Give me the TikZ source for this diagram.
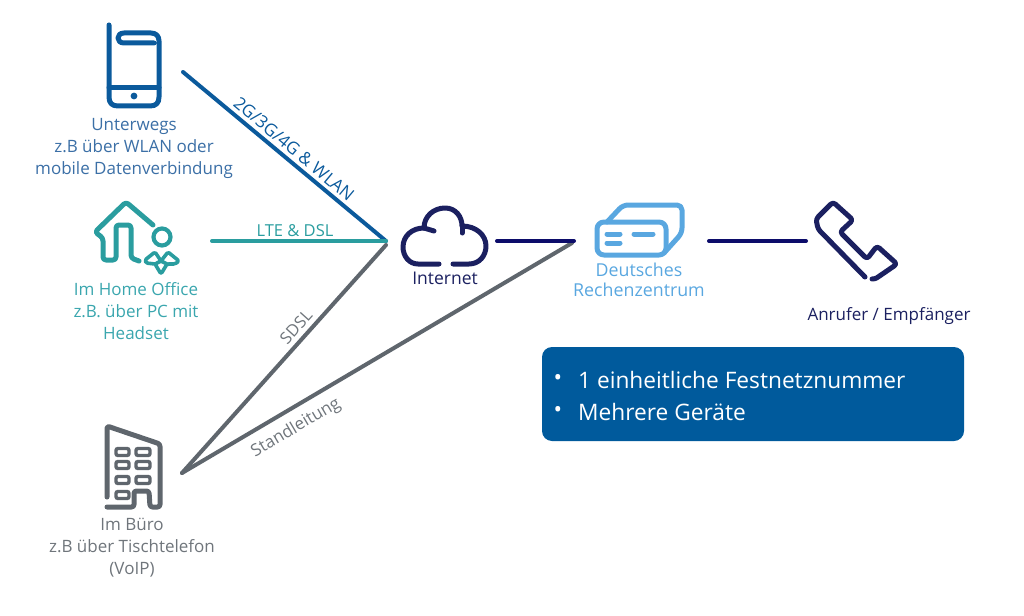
\documentclass[tikz,border=0pt]{standalone}
\usepackage{fontspec}
\setmainfont{Open Sans}
\usetikzlibrary{positioning}
\definecolor{mobblue}{HTML}{0B5A9C}
\definecolor{mobtext}{HTML}{3B6FA6}
\definecolor{hometeal}{HTML}{2A9D9F}
\definecolor{hometext}{HTML}{3AA6AE}
\definecolor{officegray}{HTML}{5F666D}
\definecolor{officetext}{HTML}{6F757B}
\definecolor{netnavy}{HTML}{1B2060}
\definecolor{linenavy}{HTML}{0C0C6A}
\definecolor{dcblue}{HTML}{59A7E0}
\definecolor{boxblue}{HTML}{005A9C}

\begin{document}
\begin{tikzpicture}[
  x=1pt, y=-1pt,
  lbl/.style={align=center, inner sep=0pt, font=\fontsize{17}{22}\selectfont},
  linklbl/.style={inner sep=0pt, font=\fontsize{16.5}{18}\selectfont},
  boxtxt/.style={inner sep=0pt, text=white, font=\fontsize{22.7}{26}\selectfont},
  link/.style={line width=4pt, line cap=round},
  icon/.style={line width=5pt, line cap=round, line join=round},
]
\useasboundingbox (0,0) rectangle (1024,615);

% ================= connector ends =================
\coordinate (mobEnd) at (183,72);
\coordinate (homeEnd) at (212,241);
\coordinate (officeEnd) at (182,473);
\coordinate (netIn) at (386,241);
\coordinate (netInLow) at (386,245);
\coordinate (netOut) at (497,241);
\coordinate (dcIn) at (574,241);
\coordinate (dcInLow) at (572,243);
\coordinate (dcOut) at (709,241);
\coordinate (callerIn) at (806,241);

% ================= connectors =================
\draw[link, mobblue] (mobEnd) -- (netIn);
\draw[link, hometeal] (homeEnd) -- (netIn);
\draw[link, officegray] (officeEnd) -- (netInLow);
\draw[link, officegray] (officeEnd) -- (dcInLow);
\draw[link, linenavy] (netOut) -- (dcIn);
\draw[link, linenavy] (dcOut) -- (callerIn);

\node[linklbl, text=mobblue, rotate=-40, font=\fontsize{17.3}{18}\selectfont] (lblMob) at (294,149) {2G/3G/4G \& WLAN};
\node[linklbl, text=hometeal] (lblHome) at (295,231) {LTE \& DSL};
\node[linklbl, text=officetext, rotate=48] (lblSdsl) at (296,327) {SDSL};
\node[linklbl, text=officetext, rotate=30.5, font=\fontsize{17}{18}\selectfont] (lblLeased) at (296,428) {Standleitung};

% ================= smartphone =================
\draw[icon, mobblue] (109,25) -- (109,97) .. controls (109,103) and (112,106) .. (118,106)
  -- (150,106) .. controls (156,106) and (159,103) .. (159,97) -- (159,41)
  .. controls (159,36) and (156,33) .. (151,33) -- (124,33)
  .. controls (116,33) and (116,43) .. (124,43) -- (154,43);
\draw[icon, mobblue] (109,88) -- (159,88);
\fill[mobblue] (134,96) circle (3.4);
\node[lbl, text=mobtext] (mob) at (134,148.5) {Unterwegs\\z.B über WLAN oder\\mobile Datenverbindung};

% ================= home office =================
\draw[icon, hometeal, rounded corners=3pt] (153,225) -- (126,202) -- (95,232) -- (103,238)
  -- (103,260) -- (116,260) -- (116,225) -- (131,225) -- (131,258) -- (139,261);
\draw[icon, hometeal, line width=4.2pt] (162,237) circle (8.5);
\draw[icon, hometeal, line width=3.6pt, rounded corners=1.5pt] (155,264) -- (146,263) -- (145,260)
  -- (155,252) -- (161,261) -- (168,252) -- (179,261) -- (175,264) -- (167,264)
  -- (161,274) -- (155,264) -- (161,261) -- (167,264);
\node[lbl, text=hometext] (home) at (136,311) {Im Home Office\\z.B. über PC mit\\Headset};

% ================= office building =================
\draw[icon, officegray, rounded corners=2.5pt] (107,497) -- (107,426) -- (160,444) -- (160,507)
  -- (150,507) -- (149,491) -- (134,491) -- (134,507) -- (107,507);
\foreach \rowy in {452,465,480,495}
  \draw[officegray, line width=3.4pt, rounded corners=2pt] (116,\rowy-3.5) rectangle (129,\rowy+3.5);
\foreach \rowy in {452,465,480}
  \draw[officegray, line width=3.4pt, rounded corners=2pt] (136,\rowy-3.5) rectangle (150,\rowy+3.5);
\node[lbl, text=officetext] (office) at (132,548) {Im Büro\\z.B über Tischtelefon\\(VoIP)};

% ================= internet =================
\draw[icon, netnavy] (439,264) -- (418,264) .. controls (409,264) and (403,256) .. (403,247)
  .. controls (403,236) and (412,228) .. (424,228) .. controls (424,216) and (434,208) .. (445,208)
  .. controls (456,208) and (462,217) .. (462,226) .. controls (476,226) and (486,235) .. (486,246)
  .. controls (486,256) and (479,264) .. (469,264) -- (453,264);
\draw[icon, netnavy] (424,228) -- (434,231);
\draw[icon, netnavy] (462,226) -- (462,233);
\node[lbl, text=netnavy, font=\fontsize{17.5}{22}\selectfont] (inet) at (445,278) {Internet};

% ================= data centre =================
\draw[icon, dcblue, rounded corners=7pt] (597,222) rectangle (666,255);
\draw[icon, dcblue, rounded corners=5pt] (607,222) -- (623,205) -- (682,205) -- (682,233) -- (664,253);
\draw[icon, dcblue] (607,234) -- (620,234);
\draw[icon, dcblue] (634,234) -- (653,234);
\draw[icon, dcblue] (607,243) -- (620,243);
\node[lbl, text=dcblue, font=\fontsize{17.8}{20}\selectfont] (dc) at (639,280) {Deutsches\\Rechenzentrum};

% ================= handset =================
\draw[icon, netnavy, rounded corners=3pt] (872,279) .. controls (876,279) and (878,277) .. (881,275)
  -- (897,264) -- (877,246) -- (867,259) -- (840,232) -- (853,220) -- (833,202) -- (816,219)
  -- (818,229) -- (865,277);
\node[lbl, text=netnavy, font=\fontsize{17}{20}\selectfont] (caller) at (889,316) {Anrufer / Empfänger};

% ================= info box =================
\fill[boxblue, rounded corners=10pt] (542,347) rectangle (964,441);
\node[boxtxt, anchor=west] (item1) at (578,380) {1 einheitliche Festnetznummer};
\node[boxtxt, anchor=west] (item2) at (578,412) {Mehrere Geräte};
\node[boxtxt] (dot1) at (558,380) {•};
\node[boxtxt] (dot2) at (558,412) {•};
\end{tikzpicture}
\end{document}
